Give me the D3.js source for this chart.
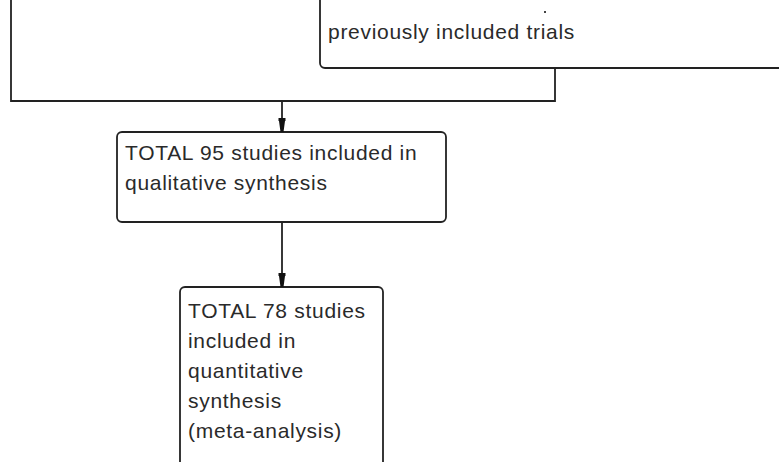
<!DOCTYPE html>
<html>
<head>
<meta charset="utf-8">
<script src="https://cdn.jsdelivr.net/npm/d3@7"></script>
<style>
  body { margin: 0; background: #fff; }
  svg text { font-family: "Liberation Sans", Arial, sans-serif; fill: #2a2a2a; }
</style>
</head>
<body>
<div id="chart"></div>
<script>
// box texts, top to bottom
const topBoxLines = ["previously included trials"];
const qualLines = ["TOTAL 95 studies included in", "qualitative synthesis"];
const quantLines = ["TOTAL 78 studies", "included in", "quantitative", "synthesis", "(meta-analysis)"];

const width = 779, height = 462;

// layout in page pixels
const layout = {
  topBox: { x0: 320, y0: -40, x1: 820, y1: 68 },
  qual:   { x0: 117, y0: 132, x1: 446, y1: 222 },
  quant:  { x0: 180, y0: 287, x1: 383, y1: 500 },
  mergeY: 101,
  leftX: 11,
  rightX: 555,
  arrowX: 282
};

const fontSize = 21, letterSpacing = 0.7, lineH = 30;

const svg = d3.select("#chart").append("svg")
  .attr("width", width)
  .attr("height", height);

// arrowhead drawn along +x, tip at the end of the path
svg.append("defs").append("marker")
  .attr("id", "arrow")
  .attr("viewBox", "0 0 14 9")
  .attr("refX", 14).attr("refY", 4.5)
  .attr("markerWidth", 14).attr("markerHeight", 9)
  .attr("markerUnits", "userSpaceOnUse")
  .attr("orient", "auto")
  .append("path")
  .attr("d", "M0,1 L3,1 L3,1.5 L14,3 L14,6 L3,7.5 L3,8 L0,8 Z")
  .attr("fill", "#111");

const stroke = "#222";
const sw = 1.8;

function drawBox(b) {
  const g = svg.append("g");
  g.append("rect")
    .attr("x", b.x0).attr("y", b.y0)
    .attr("width", b.x1 - b.x0).attr("height", b.y1 - b.y0)
    .attr("rx", 5).attr("ry", 5)
    .attr("fill", "#fff")
    .attr("stroke", stroke)
    .attr("stroke-width", sw);
  return g;
}

function drawLines(g, lines, x, yFirst) {
  const y = d3.scaleLinear().domain([0, 1]).range([yFirst, yFirst + lineH]);
  g.selectAll("text.l")
    .data(lines)
    .enter().append("text")
    .attr("class", "l")
    .attr("x", x)
    .attr("y", (d, i) => y(i))
    .attr("font-size", fontSize)
    .attr("letter-spacing", letterSpacing)
    .text(d => d);
}

const topG = drawBox(layout.topBox);
drawLines(topG, topBoxLines, 328, 39);

const qualG = drawBox(layout.qual);
drawLines(qualG, qualLines, 125, 160);

const quantG = drawBox(layout.quant);
drawLines(quantG, quantLines, 188, 318);

// connectors
const line = d3.line();
svg.append("path")
  .attr("d", line([[layout.leftX, 0], [layout.leftX, layout.mergeY], [layout.rightX, layout.mergeY], [layout.rightX, layout.topBox.y1]]))
  .attr("fill", "none")
  .attr("stroke", stroke)
  .attr("stroke-width", sw);

svg.append("path")
  .attr("d", line([[layout.arrowX, layout.mergeY], [layout.arrowX, layout.qual.y0]]))
  .attr("stroke", stroke)
  .attr("stroke-width", sw)
  .attr("marker-end", "url(#arrow)");

svg.append("path")
  .attr("d", line([[layout.arrowX, layout.qual.y1], [layout.arrowX, layout.quant.y0]]))
  .attr("stroke", stroke)
  .attr("stroke-width", sw)
  .attr("marker-end", "url(#arrow)");

// stray mark left over from the clipped line above
svg.append("rect")
  .attr("x", 544).attr("y", 11).attr("width", 2).attr("height", 2)
  .attr("fill", "#444");
</script>
</body>
</html>
